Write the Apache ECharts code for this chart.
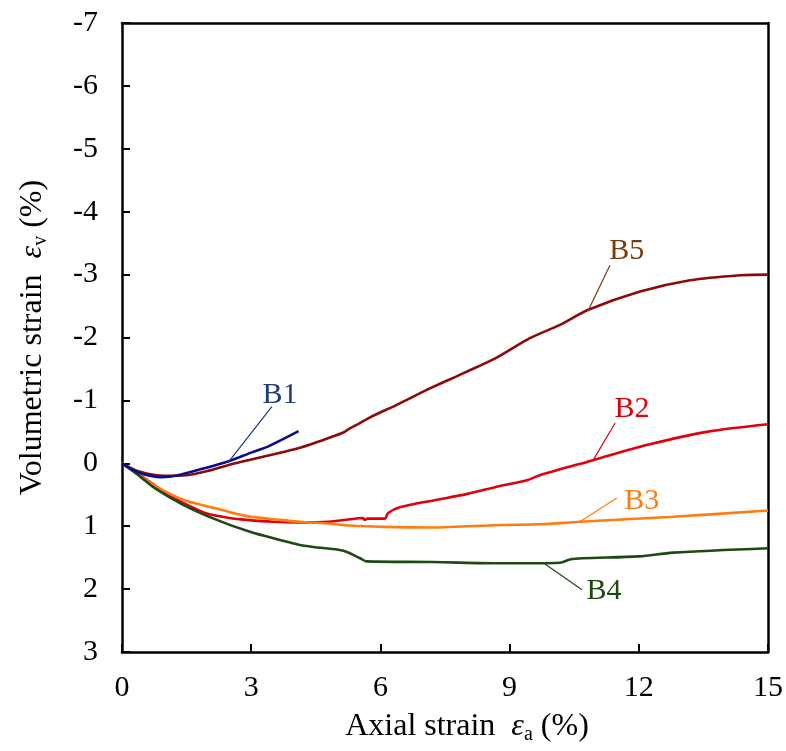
<!DOCTYPE html>
<html>
<head>
<meta charset="utf-8">
<script src="https://cdn.jsdelivr.net/npm/echarts@6/dist/echarts.min.js"></script>
<style>html,body{margin:0;padding:0;background:#fff;}#c{width:786px;height:751px;}</style>
</head>
<body>
<div id="c"></div>
<script>
// ---- data (axial strain %, volumetric strain %) ----
const xTicks = [0, 3, 6, 9, 12, 15];
const yTicks = [-7, -6, -5, -4, -3, -2, -1, 0, 1, 2, 3];

const B1_x = [0, 0.4, 0.92, 1.3, 1.8, 2.46, 3.0, 3.4, 4.1];
const B1_y = [0, 0.15, 0.22, 0.19, 0.1, -0.03, -0.17, -0.27, -0.51];

const B2_x = [0, 0.4, 0.8, 1.2, 1.6, 1.97, 2.5, 2.9, 3.5, 4.1, 4.8, 5.29, 5.6, 5.63, 5.7, 6.1, 6.18, 6.45, 7.23, 8.0, 8.78, 9.4, 9.7, 10.94, 12.18, 13.58, 15];
const B2_y = [0, 0.18, 0.37, 0.55, 0.69, 0.8, 0.87, 0.9, 0.93, 0.94, 0.93, 0.89, 0.87, 0.9, 0.88, 0.88, 0.79, 0.7, 0.59, 0.49, 0.36, 0.27, 0.19, -0.05, -0.29, -0.5, -0.62];

const B3_x = [0, 0.4, 0.8, 1.42, 2.2, 2.9, 3.67, 4.13, 4.83, 5.29, 6.07, 7.22, 8.78, 9.7, 10.63, 12.8, 15];
const B3_y = [0, 0.19, 0.37, 0.58, 0.72, 0.84, 0.9, 0.93, 0.96, 0.99, 1.01, 1.02, 0.98, 0.97, 0.93, 0.85, 0.75];

const B4_x = [0, 0.4, 0.77, 1.42, 2.2, 2.97, 3.67, 4.13, 4.44, 5.14, 5.53, 5.68, 7.22, 8.78, 10.17, 10.4, 10.7, 12.0, 12.8, 15];
const B4_y = [0, 0.2, 0.4, 0.66, 0.9, 1.09, 1.22, 1.3, 1.33, 1.39, 1.51, 1.56, 1.57, 1.59, 1.58, 1.53, 1.51, 1.48, 1.42, 1.35];

const B5_x = [0, 0.4, 1.0, 1.5, 2.0, 2.46, 3.0, 3.5, 4.09, 4.5, 4.83, 5.14, 5.3, 5.45, 5.76, 6.38, 7.15, 7.92, 8.7, 9.47, 10.17, 10.83, 12.03, 13.19, 14.35, 15];
const B5_y = [0, 0.13, 0.2, 0.19, 0.12, 0.03, -0.06, -0.14, -0.24, -0.33, -0.41, -0.49, -0.56, -0.61, -0.73, -0.93, -1.19, -1.43, -1.68, -1.99, -2.2, -2.44, -2.73, -2.91, -2.99, -3.0];

// annotation: name, leader start, leader end, label position (data coords)
const labelNames = ['B1', 'B2', 'B3', 'B4', 'B5'];
const leaderFrom = [[2.47, -0.02], [10.94, -0.05], [10.63, 0.93], [9.82, 1.6], [10.82, -2.42]];
const leaderTo = [[3.48, -0.9], [11.45, -0.64], [11.49, 0.55], [10.68, 2.01], [11.33, -3.15]];
const labelPos = [[3.67, -1.08], [11.84, -0.86], [12.07, 0.6], [11.19, 2.03], [11.72, -3.37]];

const lineColors = ['#0b0b8f', '#e0000c', '#ff7d10', '#1d4a12', '#8c0a0a'];
const labelColors = ['#1f3a78', '#e0000c', '#ff7d10', '#1d4a12', '#7a3b0c'];

const seriesX = [B1_x, B2_x, B3_x, B4_x, B5_x];
const seriesY = [B1_y, B2_y, B3_y, B4_y, B5_y];

const FONT = '"Times New Roman", "Liberation Serif", Times, serif';
const FS = 30;
const TFS = 32;
const chart = echarts.init(document.getElementById('c'));

const zip = (xs, ys) => xs.map((x, i) => [x, ys[i]]);

const series = [];
const order = [4, 1, 2, 3, 0];
order.forEach(i => {
  series.push({
    type: 'line', name: labelNames[i], data: zip(seriesX[i], seriesY[i]),
    showSymbol: false, symbol: 'none', smooth: 0.3,
    lineStyle: { color: lineColors[i], width: 2.6 },
    z: 3, silent: true
  });
});
labelNames.forEach((n, i) => {
  series.push({
    type: 'line', data: [leaderFrom[i], leaderTo[i]], symbol: 'none',
    lineStyle: { color: labelColors[i], width: 1.2 }, z: 4, silent: true
  });
});

const nameRich = {
  a: { fontFamily: FONT, fontSize: TFS, color: '#000' },
  e: { fontFamily: FONT, fontSize: TFS, fontStyle: 'italic', color: '#000' },
  s: { fontFamily: FONT, fontSize: 20, color: '#000', padding: [16, 0, 0, 0] }
};

chart.setOption({
  animation: false,
  backgroundColor: '#fff',
  grid: { left: 122, right: 18, top: 23, bottom: 99, containLabel: false },
  xAxis: [{
    type: 'value', min: 0, max: 15, interval: 3,
    axisLine: { show: true, onZero: false, lineStyle: { color: '#000', width: 2.5 } },
    axisTick: { show: true, inside: true, length: 8, lineStyle: { color: '#000', width: 2 } },
    axisLabel: { margin: 21, color: '#000', fontFamily: FONT, fontSize: FS },
    splitLine: { show: false },
    name: '{a|Axial strain  }{e|ε}{s|a}{a| (%)}', nameLocation: 'middle', nameGap: 57,
    nameTextStyle: { rich: nameRich, padding: [0, 0, 0, 44] }
  }, {
    type: 'value', position: 'top', min: 0, max: 15,
    axisLine: { show: true, onZero: false, lineStyle: { color: '#000', width: 2.5 } },
    axisTick: { show: false }, axisLabel: { show: false }, splitLine: { show: false }
  }],
  yAxis: [{
    type: 'value', min: -7, max: 3, interval: 1, inverse: true,
    axisLine: { show: true, onZero: false, lineStyle: { color: '#000', width: 2.5 } },
    axisTick: { show: true, inside: true, length: 8, lineStyle: { color: '#000', width: 2 } },
    axisLabel: { margin: 24, color: '#000', fontFamily: FONT, fontSize: FS },
    splitLine: { show: false },
    name: '{a|Volumetric strain  }{e|ε}{s|v}{a| (%)}', nameLocation: 'middle', nameGap: 71, nameRotate: 90,
    nameTextStyle: { rich: nameRich }
  }, {
    type: 'value', position: 'right', min: -7, max: 3, inverse: true,
    axisLine: { show: true, onZero: false, lineStyle: { color: '#000', width: 2.5 } },
    axisTick: { show: false }, axisLabel: { show: false }, splitLine: { show: false }
  }],
  series: series
});

const texts = labelNames.map((n, i) => {
  const p = chart.convertToPixel({ gridIndex: 0 }, labelPos[i]);
  return {
    type: 'text', x: p[0], y: p[1], z: 10,
    style: { text: n, fill: labelColors[i], fontFamily: FONT, fontSize: FS, align: 'center', verticalAlign: 'middle' }
  };
});
chart.setOption({ graphic: texts });
</script>
</body>
</html>
